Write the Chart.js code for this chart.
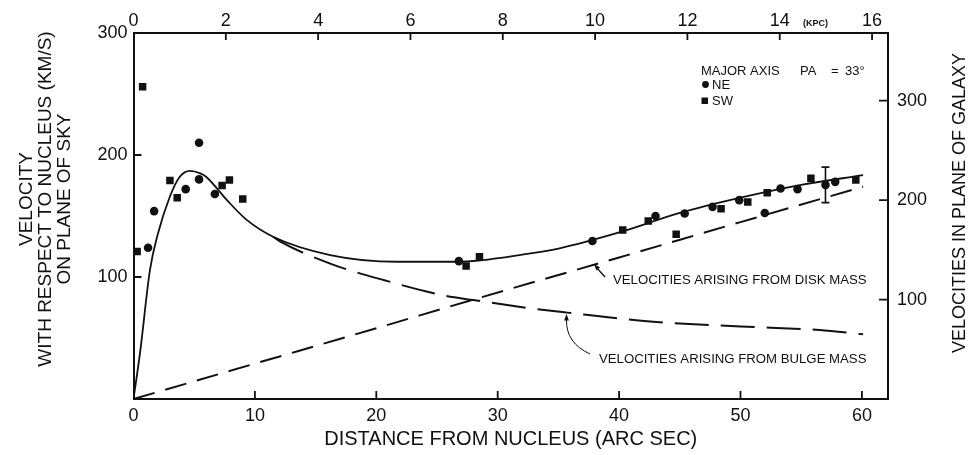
<!DOCTYPE html>
<html>
<head>
<meta charset="utf-8">
<script src="https://cdn.jsdelivr.net/npm/chart.js@4.4.0/dist/chart.umd.min.js"></script>
<style>
  html, body { margin: 0; padding: 0; background: #fff; }
  #wrap { width: 971px; height: 455px; }
</style>
</head>
<body>
<div id="wrap"><canvas id="curva" width="971" height="455"></canvas></div>
<script>
// eixos
const xTicks = [0, 10, 20, 30, 40, 50, 60];
const kpcTicks = [0, 2, 4, 6, 8, 10, 12, 14, 16];
const yTicks = [100, 200, 300];
const galaxyTicks = [100, 200, 300];
const xMax = 62.15;
const kpcPorSeg = 0.263;
const yMax = 300;
const galaxyMax = 368;

// pontos NE (circulos)
const neDist = [1.2, 1.7, 4.3, 5.4, 5.4, 6.7, 26.8, 37.8, 43.0, 45.4, 47.7, 49.9, 52.0, 53.3, 54.7, 57.0, 57.8];
const neVel  = [124, 154, 172, 210, 180, 168, 113, 129.5, 150, 152, 157.5, 163, 152.5, 172.5, 172, 175.5, 178];

// pontos SW (quadrados)
const swDist = [0.3, 0.75, 3.0, 3.6, 7.3, 7.9, 9.0, 27.4, 28.5, 40.3, 42.4, 44.7, 48.4, 50.6, 52.2, 55.8, 59.5];
const swVel  = [121, 256, 179, 165, 175, 179.5, 164, 109, 116.5, 138.5, 146, 135, 156, 161.5, 169, 181, 179.5];

// curva total
const totalDist = [0, 0.54, 1.36, 2.0, 3.0, 3.8, 4.65, 5.5, 6.0, 7.7, 9.3, 11.5, 16.2, 21.7, 26.6, 32.7, 35.1, 40.0, 45.0, 50.0, 55.0, 60.1];
const totalVel  = [0, 38, 106, 135, 166, 182, 187, 185, 182, 163, 147, 133, 118, 112.5, 112.5, 119.4, 123.5, 136.5, 152.5, 165, 175.5, 183.5];

// disco
const diskDist = [0, 10, 20, 28, 40, 50, 60.1];
const diskVel  = [0, 29, 58, 81.5, 116, 145, 174];

// bojo
const bulgeDist = [11.5, 12.1, 16.2, 20.6, 25.8, 28.0, 32.7, 35.7, 42.8, 50.0, 56.5, 60.1];
const bulgeVel  = [133, 129, 111, 97.5, 84.4, 81.1, 74.3, 70.8, 63.4, 59.5, 56.5, 53];

// barra de erro
const errDist = [57.0, 57.0];
const errVel  = [161, 190];

const pares = (xs, ys) => xs.map((v, i) => ({ x: v, y: ys[i] }));
const fonte = "'Liberation Sans', Arial, Helvetica, sans-serif";
const tinta = '#111';

function seta(ctx, x1, y1, x2, y2, tam) {
  const ang = Math.atan2(y2 - y1, x2 - x1);
  ctx.beginPath();
  ctx.moveTo(x2, y2);
  ctx.lineTo(x2 - tam * Math.cos(ang - 0.35), y2 - tam * Math.sin(ang - 0.35));
  ctx.lineTo(x2 - tam * Math.cos(ang + 0.35), y2 - tam * Math.sin(ang + 0.35));
  ctx.closePath();
  ctx.fill();
}

const decoracao = {
  id: 'decoracao',
  afterDraw(chart) {
    const ctx = chart.ctx;
    const area = chart.chartArea;
    const { x, x2, y, y2 } = chart.scales;
    ctx.save();
    ctx.strokeStyle = tinta;
    ctx.fillStyle = tinta;

    // ticks para dentro
    ctx.lineWidth = 1.8;
    ctx.beginPath();
    xTicks.forEach(v => {
      if (v <= 0) return;
      const px = x.getPixelForValue(v);
      ctx.moveTo(px, area.bottom); ctx.lineTo(px, area.bottom - 8);
    });
    kpcTicks.forEach(v => {
      if (v <= 0) return;
      const px = x2.getPixelForValue(v);
      ctx.moveTo(px, area.top); ctx.lineTo(px, area.top + 7);
    });
    yTicks.forEach(v => {
      if (v >= yMax) return;
      const py = y.getPixelForValue(v);
      ctx.moveTo(area.left, py); ctx.lineTo(area.left + 8, py);
    });
    galaxyTicks.forEach(v => {
      const py = y2.getPixelForValue(v);
      ctx.moveTo(area.right, py); ctx.lineTo(area.right - 9, py);
    });
    ctx.stroke();

    // titulos verticais
    ctx.textAlign = 'center';
    ctx.textBaseline = 'middle';
    ctx.font = '19px ' + fonte;
    const linhas = ['VELOCITY', 'WITH RESPECT TO NUCLEUS (KM/S)', 'ON PLANE OF SKY'];
    linhas.forEach((t, i) => {
      ctx.save();
      ctx.translate(27 + i * 19, 199);
      ctx.rotate(-Math.PI / 2);
      ctx.fillText(t, 0, 0);
      ctx.restore();
    });
    ctx.font = '18px ' + fonte;
    ctx.save();
    ctx.translate(960, 203);
    ctx.rotate(-Math.PI / 2);
    ctx.fillText('VELOCITIES IN PLANE OF GALAXY', 0, 0);
    ctx.restore();

    // (KPC)
    ctx.font = 'bold 9px ' + fonte;
    ctx.textAlign = 'left';
    ctx.fillText('(KPC)', 803, 24);

    // legenda
    ctx.font = '13px ' + fonte;
    ctx.fillText('MAJOR AXIS', 701, 71);
    ctx.fillText('PA', 800, 71);
    ctx.fillText('=', 831, 71);
    ctx.fillText('33°', 845, 71);
    ctx.fillText('NE', 712, 85);
    ctx.fillText('SW', 712, 101);
    ctx.beginPath();
    ctx.arc(705.5, 84.5, 3.4, 0, Math.PI * 2);
    ctx.fill();
    ctx.fillRect(701.5, 97.5, 6.5, 6.5);

    // anotacoes
    ctx.font = '13.2px ' + fonte;
    ctx.fillText('VELOCITIES ARISING FROM DISK MASS', 613, 280);
    ctx.fillText('VELOCITIES ARISING FROM BULGE MASS', 599, 359);

    ctx.lineWidth = 1.3;
    ctx.beginPath();
    ctx.moveTo(605, 277);
    ctx.lineTo(596, 267);
    ctx.stroke();
    seta(ctx, 605, 277, 594, 264, 7);

    ctx.lineWidth = 1;
    ctx.beginPath();
    ctx.moveTo(590, 354);
    ctx.quadraticCurveTo(566, 343, 566.5, 320);
    ctx.stroke();
    seta(ctx, 566.5, 325, 566.5, 314, 7);

    ctx.restore();
  }
};

const semGrade = { display: false, drawTicks: false, tickLength: 0 };
const borda = { display: true, color: tinta, width: 2 };

new Chart(document.getElementById('curva'), {
  type: 'scatter',
  data: {
    datasets: [
      {
        label: 'NE',
        data: pares(neDist, neVel),
        pointStyle: 'circle',
        pointRadius: 4.3,
        backgroundColor: tinta,
        borderColor: tinta,
        borderWidth: 0
      },
      {
        label: 'SW',
        data: pares(swDist, swVel),
        pointStyle: 'rect',
        pointRadius: 5.3,
        backgroundColor: tinta,
        borderColor: tinta,
        borderWidth: 0
      },
      {
        label: 'total',
        type: 'line',
        data: pares(totalDist, totalVel),
        borderColor: tinta,
        borderWidth: 1.8,
        pointRadius: 0,
        cubicInterpolationMode: 'monotone',
        fill: false
      },
      {
        label: 'disk',
        type: 'line',
        data: pares(diskDist, diskVel),
        borderColor: tinta,
        borderWidth: 2,
        borderDash: [22, 11],
        pointRadius: 0,
        cubicInterpolationMode: 'monotone',
        fill: false
      },
      {
        label: 'bulge',
        type: 'line',
        data: pares(bulgeDist, bulgeVel),
        borderColor: tinta,
        borderWidth: 2,
        borderDash: [34, 12],
        pointRadius: 0,
        cubicInterpolationMode: 'monotone',
        fill: false
      },
      {
        label: 'erro',
        type: 'line',
        data: pares(errDist, errVel),
        borderColor: tinta,
        borderWidth: 1.6,
        pointStyle: 'line',
        pointRadius: 4,
        pointBorderWidth: 1.8,
        fill: false
      }
    ]
  },
  options: {
    responsive: false,
    animation: false,
    events: [],
    layout: { padding: 0 },
    plugins: {
      legend: { display: false },
      tooltip: { enabled: false }
    },
    scales: {
      x: {
        type: 'linear',
        position: 'bottom',
        min: 0,
        max: xMax,
        afterBuildTicks: s => { s.ticks = xTicks.map(v => ({ value: v })); },
        afterFit: s => { s.height = 56; },
        grid: semGrade,
        border: borda,
        ticks: { color: tinta, font: { size: 18, family: fonte }, padding: 6, maxRotation: 0 },
        title: {
          display: true,
          text: 'DISTANCE FROM NUCLEUS (ARC SEC)',
          color: tinta,
          font: { size: 20, family: fonte },
          padding: { top: 0, bottom: 4 }
        }
      },
      x2: {
        type: 'linear',
        position: 'top',
        min: 0,
        max: xMax * kpcPorSeg,
        afterBuildTicks: s => { s.ticks = kpcTicks.map(v => ({ value: v })); },
        afterFit: s => { s.height = 33; },
        grid: semGrade,
        border: borda,
        ticks: { color: tinta, font: { size: 18, family: fonte }, padding: 1, maxRotation: 0 }
      },
      y: {
        type: 'linear',
        position: 'left',
        min: 0,
        max: yMax,
        afterBuildTicks: s => { s.ticks = yTicks.map(v => ({ value: v })); },
        afterFit: s => { s.width = 133.5; },
        grid: semGrade,
        border: borda,
        ticks: { color: tinta, font: { size: 18, family: fonte }, padding: 6 }
      },
      y2: {
        type: 'linear',
        position: 'right',
        min: 0,
        max: galaxyMax,
        afterBuildTicks: s => { s.ticks = galaxyTicks.map(v => ({ value: v })); },
        afterFit: s => { s.width = 83; },
        grid: semGrade,
        border: borda,
        ticks: { color: tinta, font: { size: 18, family: fonte }, padding: 9 }
      }
    }
  },
  plugins: [decoracao]
});
</script>
</body>
</html>
